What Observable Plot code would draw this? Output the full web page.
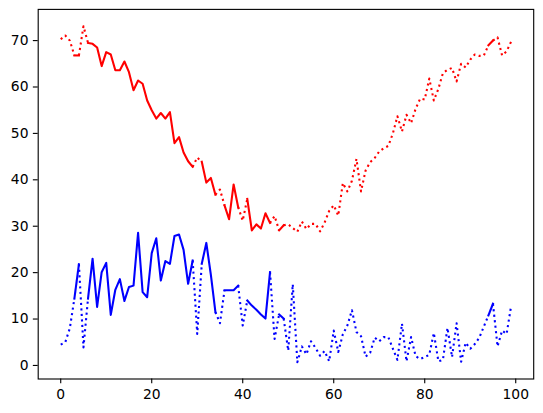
<!DOCTYPE html>
<html><head><meta charset="utf-8">
<script src="https://cdn.jsdelivr.net/npm/d3@7"></script>
<script src="https://cdn.jsdelivr.net/npm/@observablehq/plot@0.6"></script>
<style>body{margin:0;background:#fff}</style>
</head><body><div id="chart"></div>
<script>
// x positions (sample index)
const xs = [
  0,1,2,3,4,5,6,7,8,9,10,11,12,13,14,15,16,17,18,19,
  20,21,22,23,24,25,26,27,28,29,30,31,32,33,34,35,36,37,38,39,
  40,41,42,43,44,45,46,47,48,49,50,51,52,53,54,55,56,57,58,59,
  60,61,62,63,64,65,66,67,68,69,70,71,72,73,74,75,76,77,78,79,
  80,81,82,83,84,85,86,87,88,89,90,91,92,93,94,95,96,97,98,99
];
const redValues = [
  70.3,71.1,70.0,66.8,66.8,73.1,69.5,69.3,68.5,64.5,
  67.5,67.0,63.6,63.6,65.5,63.2,59.3,61.4,60.7,57.1,
  55.0,53.2,54.4,53.2,54.6,47.9,49.2,45.9,44.0,42.8,
  44.8,43.9,39.4,40.4,36.8,37.9,34.5,31.5,39.0,34.1,
  31.2,35.9,29.1,30.4,29.5,32.8,30.7,32.2,29.1,30.2,
  30.4,29.6,28.8,31.0,29.4,30.5,30.5,28.9,30.8,33.3,
  34.5,32.3,39.3,37.5,39.8,44.5,37.5,42.0,43.8,44.7,
  46.1,46.8,47.3,50.0,53.7,50.4,54.0,52.2,55.3,57.5,
  57.3,61.8,57.1,59.6,63.0,63.7,64.1,61.2,65.0,64.2,
  65.9,67.0,66.7,66.8,69.0,70.0,70.7,66.8,67.7,69.8
];
const blueValues = [
  4.5,5.0,8.0,14.4,21.8,3.9,14.4,23.0,12.6,20.1,
  22.1,10.9,16.3,18.6,13.9,16.9,17.2,28.6,15.8,14.7,
  24.2,27.4,18.3,22.5,21.9,27.9,28.2,24.9,17.6,22.6,
  6.8,21.9,26.4,19.5,11.5,9.1,16.2,16.2,16.2,17.2,
  8.6,14.0,12.9,12.0,11.0,10.1,20.1,5.7,11.0,10.1,
  3.2,17.5,0.7,4.1,2.4,5.2,3.8,2.1,3.1,0.9,
  7.5,2.9,6.7,8.6,11.9,7.2,6.3,1.9,2.7,6.0,
  5.2,6.1,6.1,3.6,1.2,9.0,0.9,6.1,2.0,1.4,
  1.8,2.3,7.0,0.9,1.2,8.1,1.8,9.1,0.8,4.9,
  3.6,4.6,6.0,8.4,10.8,13.3,4.1,7.5,6.8,12.9
];
// index ranges drawn with a solid line (rest dotted)
const solidRuns = [[3,4],[6,29],[31,34],[36,39],[41,46],[48,49],[94,95]];
const xTicks = [0,20,40,60,80,100];
const yTicks = [0,10,20,30,40,50,60,70];

function runsFor(name, values) {
  const rows = [];
  let n = 0, cur = null;
  for (let i = 0; i < values.length - 1; i++) {
    const solid = solidRuns.some(([a, b]) => i >= a && i + 1 <= b);
    const style = solid ? "solid" : "dotted";
    if (!cur || cur.style !== style) {
      n++;
      cur = {style, id: name + n};
      rows.push({series: name, style, run: cur.id, x: xs[i], y: values[i]});
    }
    rows.push({series: name, style, run: cur.id, x: xs[i + 1], y: values[i + 1]});
  }
  return rows;
}
const redRows = runsFor("red", redValues);
const blueRows = runsFor("blue", blueValues);

const all = redValues.concat(blueValues);
const yMin = d3.min(all), yMax = d3.max(all);
const xMin = d3.min(xs), xMax = d3.max(xs);
const px = 0.05 * (xMax - xMin), py = 0.05 * (yMax - yMin);

const pt = 100 / 72;
const lw = 1.5 * pt;
const dash = `${lw},${1.65 * lw}`;

function lines(rows, color) {
  return [
    Plot.line(rows.filter(d => d.style === "solid"), {x: "x", y: "y", z: "run", stroke: color, strokeWidth: lw, strokeLinejoin: "round", strokeLinecap: "square"}),
    Plot.line(rows.filter(d => d.style === "dotted"), {x: "x", y: "y", z: "run", stroke: color, strokeWidth: lw, strokeDasharray: dash, strokeLinecap: "butt", strokeLinejoin: "round"})
  ];
}

const chart = Plot.plot({
  width: 543,
  height: 413,
  marginLeft: 37.7,
  marginRight: 9.8,
  marginTop: 8.9,
  marginBottom: 34.5,
  style: {fontFamily: "DejaVu Sans", fontSize: (10 * pt) + "px", color: "black", background: "white"},
  x: {domain: [xMin - px, xMax + px]},
  y: {domain: [yMin - py, yMax + py]},
  marks: [
    ...lines(redRows, "red"),
    ...lines(blueRows, "blue"),
    Plot.frame({stroke: "black", strokeWidth: 0.8 * pt}),
    Plot.axisX(xTicks, {tickSize: 3.5 * pt, tickPadding: 3.5 * pt, strokeWidth: 0.8 * pt, fontSize: 10 * pt, label: null, fill: "black"}),
    Plot.axisY(yTicks, {tickSize: 3.5 * pt, tickPadding: 3.5 * pt, strokeWidth: 0.8 * pt, fontSize: 10 * pt, label: null, fill: "black"})
  ]
});
document.getElementById("chart").appendChild(chart);
</script>
</body></html>
